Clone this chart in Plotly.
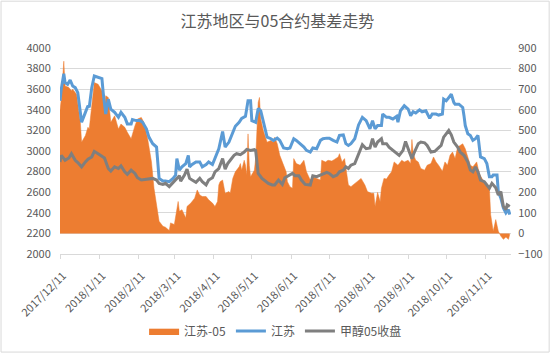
import plotly.graph_objects as go

title_text = "江苏地区与05合约基差走势"

# 江苏 spot price (left axis)
js_dates = ["2017-12-11","2017-12-12","2017-12-14","2017-12-15","2017-12-17","2017-12-19","2017-12-21","2017-12-23","2017-12-25","2017-12-28",
 "2017-12-31","2018-01-02","2018-01-03","2018-01-05","2018-01-07","2018-01-10","2018-01-13","2018-01-14","2018-01-16","2018-01-18",
 "2018-01-20","2018-01-23","2018-01-26","2018-01-28","2018-01-31","2018-02-02","2018-02-05","2018-02-06","2018-02-09","2018-02-12",
 "2018-02-14","2018-02-17","2018-02-19","2018-02-22","2018-02-25","2018-02-27","2018-03-02","2018-03-04","2018-03-07","2018-03-10",
 "2018-03-12","2018-03-13","2018-03-15","2018-03-17","2018-03-20","2018-03-22","2018-03-23","2018-03-25","2018-03-28","2018-03-31",
 "2018-04-02","2018-04-05","2018-04-07","2018-04-10","2018-04-12","2018-04-15","2018-04-18","2018-04-20","2018-04-23","2018-04-26",
 "2018-04-28","2018-05-01","2018-05-03","2018-05-06","2018-05-08","2018-05-10","2018-05-11","2018-05-14","2018-05-16","2018-05-18",
 "2018-05-20","2018-05-23","2018-05-26","2018-05-28","2018-05-31","2018-06-02","2018-06-05","2018-06-08","2018-06-10","2018-06-13",
 "2018-06-15","2018-06-18","2018-06-21","2018-06-23","2018-06-26","2018-06-28","2018-07-01","2018-07-04","2018-07-06","2018-07-09",
 "2018-07-11","2018-07-14","2018-07-17","2018-07-19","2018-07-22","2018-07-24","2018-07-26","2018-07-28","2018-07-31","2018-08-03",
 "2018-08-05","2018-08-06","2018-08-09","2018-08-12","2018-08-14","2018-08-16","2018-08-18","2018-08-21","2018-08-22","2018-08-25",
 "2018-08-27","2018-08-30","2018-09-02","2018-09-03","2018-09-05","2018-09-08","2018-09-11","2018-09-13","2018-09-15","2018-09-17",
 "2018-09-20","2018-09-22","2018-09-25","2018-09-28","2018-09-30","2018-10-03","2018-10-05","2018-10-08","2018-10-09","2018-10-11",
 "2018-10-13","2018-10-15","2018-10-17","2018-10-18","2018-10-21","2018-10-24","2018-10-25","2018-10-26","2018-10-28","2018-10-30",
 "2018-11-01","2018-11-03","2018-11-05","2018-11-07","2018-11-10","2018-11-12","2018-11-14","2018-11-16","2018-11-17","2018-11-20",
 "2018-11-21","2018-11-23","2018-11-25","2018-11-27","2018-11-29","2018-11-30"]
js_values = [3487,3600,3750,3663,3647,3689,3631,3615,3567,3279,
 3375,3439,3423,3615,3728,3712,3702,3567,3359,3503,
 3407,3375,3327,3375,3327,3263,3263,3305,3295,3295,
 3279,3215,3135,3071,3038,2734,2708,2708,2702,2734,
 2766,2926,2814,2846,2878,2958,2846,2869,2894,2894,
 2846,2869,2894,2869,2926,3022,3189,3038,3087,3183,
 3240,3279,3317,3337,3487,3487,3295,3279,3413,3391,
 3279,3135,3119,3103,3125,3103,3029,3022,3029,3119,
 3103,3071,3038,3006,2990,3029,3022,3103,3119,3125,
 3125,3103,3087,3151,3157,3071,3054,3071,3119,3253,
 3295,3327,3295,3215,3295,3215,3247,3247,3359,3327,
 3327,3311,3337,3279,3391,3439,3407,3343,3381,3369,
 3400,3381,3391,3317,3359,3359,3349,3359,3503,3487,
 3519,3551,3471,3455,3455,3423,3343,3247,3167,3151,
 3103,3119,3151,2942,2926,2878,2750,2750,2766,2766,
 2606,2542,2446,2398,2430,2382]

# 甲醇05收盘 futures close (left axis)
ma_dates = ["2017-12-11","2017-12-12","2017-12-15","2017-12-18","2017-12-20","2017-12-23","2017-12-25","2017-12-28","2017-12-31","2018-01-02",
 "2018-01-05","2018-01-07","2018-01-10","2018-01-13","2018-01-15","2018-01-18","2018-01-20","2018-01-23","2018-01-26","2018-01-28",
 "2018-01-31","2018-02-02","2018-02-05","2018-02-08","2018-02-10","2018-02-13","2018-02-15","2018-02-18","2018-02-22","2018-02-25",
 "2018-02-27","2018-03-02","2018-03-04","2018-03-07","2018-03-10","2018-03-12","2018-03-15","2018-03-16","2018-03-19","2018-03-21",
 "2018-03-23","2018-03-25","2018-03-28","2018-03-31","2018-04-02","2018-04-05","2018-04-07","2018-04-10","2018-04-12","2018-04-15",
 "2018-04-18","2018-04-20","2018-04-22","2018-04-24","2018-04-27","2018-04-29","2018-05-02","2018-05-05","2018-05-07","2018-05-10",
 "2018-05-13","2018-05-14","2018-05-16","2018-05-19","2018-05-22","2018-05-24","2018-05-27","2018-05-29","2018-06-01","2018-06-04",
 "2018-06-06","2018-06-09","2018-06-12","2018-06-14","2018-06-17","2018-06-19","2018-06-22","2018-06-26","2018-06-28","2018-07-01",
 "2018-07-04","2018-07-06","2018-07-09","2018-07-11","2018-07-14","2018-07-17","2018-07-19","2018-07-22","2018-07-24","2018-07-26",
 "2018-07-28","2018-07-31","2018-08-03","2018-08-05","2018-08-06","2018-08-09","2018-08-12","2018-08-14","2018-08-16","2018-08-18",
 "2018-08-21","2018-08-22","2018-08-25","2018-08-27","2018-08-30","2018-09-02","2018-09-04","2018-09-07","2018-09-09","2018-09-12",
 "2018-09-14","2018-09-16","2018-09-19","2018-09-21","2018-09-24","2018-09-26","2018-09-29","2018-10-02","2018-10-04","2018-10-07",
 "2018-10-09","2018-10-11","2018-10-13","2018-10-15","2018-10-17","2018-10-20","2018-10-22","2018-10-25","2018-10-28","2018-10-30",
 "2018-11-01","2018-11-03","2018-11-05","2018-11-07","2018-11-10","2018-11-12","2018-11-14","2018-11-16","2018-11-19","2018-11-21",
 "2018-11-23","2018-11-25","2018-11-27","2018-11-28","2018-11-30"]
ma_values = [2894,2958,2910,2933,2974,2910,2888,2846,2894,2920,
 2942,2997,2974,2952,2933,2830,2805,2846,2830,2856,
 2798,2773,2814,2782,2740,2718,2721,2728,2734,2718,
 2686,2676,2686,2654,2696,2718,2760,2708,2766,2824,
 2734,2718,2696,2734,2702,2670,2718,2740,2798,2830,
 2926,2824,2878,2910,2958,2974,2964,2990,3016,3006,
 3013,3006,2782,2734,2702,2686,2670,2670,2718,2676,
 2740,2760,2782,2760,2760,2718,2676,2670,2760,2750,
 2766,2773,2792,2782,2750,2766,2798,2814,2846,2830,
 2862,2878,2974,3022,3061,3022,3029,3119,3038,3087,
 3119,3071,3071,3038,3006,2974,2958,3006,3093,2990,
 2926,2990,3071,3087,3080,3054,2990,2997,3022,3054,
 3135,3167,3199,3157,3087,3038,2990,2958,2894,2814,
 2798,2846,2798,2718,2702,2670,2638,2686,2644,2574,
 2606,2462,2430,2478,2462]

# 江苏-05 basis (right axis)
basis_dates = ["2017-12-11","2017-12-12","2017-12-14","2017-12-15","2017-12-18","2017-12-20","2017-12-21","2017-12-24","2017-12-27","2017-12-28",
 "2017-12-31","2018-01-02","2018-01-03","2018-01-05","2018-01-07","2018-01-10","2018-01-13","2018-01-15","2018-01-16","2018-01-18",
 "2018-01-20","2018-01-23","2018-01-26","2018-01-28","2018-01-31","2018-02-02","2018-02-05","2018-02-08","2018-02-10","2018-02-13",
 "2018-02-15","2018-02-18","2018-02-21","2018-02-23","2018-02-26","2018-02-27","2018-03-02","2018-03-04","2018-03-07","2018-03-08",
 "2018-03-11","2018-03-14","2018-03-15","2018-03-17","2018-03-20","2018-03-21","2018-03-24","2018-03-27","2018-03-29","2018-03-31",
 "2018-04-02","2018-04-05","2018-04-07","2018-04-10","2018-04-12","2018-04-14","2018-04-15","2018-04-16","2018-04-18","2018-04-19",
 "2018-04-20","2018-04-23","2018-04-24","2018-04-26","2018-04-28","2018-05-01","2018-05-02","2018-05-03","2018-05-05","2018-05-06",
 "2018-05-07","2018-05-08","2018-05-09","2018-05-10","2018-05-13","2018-05-14","2018-05-16","2018-05-17","2018-05-18","2018-05-20",
 "2018-05-23","2018-05-26","2018-05-28","2018-05-29","2018-05-31","2018-06-02","2018-06-05","2018-06-07","2018-06-08","2018-06-10",
 "2018-06-12","2018-06-13","2018-06-15","2018-06-18","2018-06-21","2018-06-23","2018-06-26","2018-06-28","2018-07-01","2018-07-04",
 "2018-07-05","2018-07-08","2018-07-10","2018-07-13","2018-07-15","2018-07-18","2018-07-19","2018-07-21","2018-07-23","2018-07-25",
 "2018-07-26","2018-07-28","2018-07-31","2018-08-03","2018-08-05","2018-08-08","2018-08-10","2018-08-13","2018-08-15","2018-08-16",
 "2018-08-18","2018-08-20","2018-08-21","2018-08-23","2018-08-25","2018-08-27","2018-08-29","2018-08-31","2018-09-03","2018-09-06",
 "2018-09-08","2018-09-11","2018-09-13","2018-09-14","2018-09-15","2018-09-17","2018-09-19","2018-09-21","2018-09-24","2018-09-26",
 "2018-09-29","2018-10-01","2018-10-03","2018-10-05","2018-10-08","2018-10-10","2018-10-12","2018-10-14","2018-10-16","2018-10-18",
 "2018-10-20","2018-10-22","2018-10-24","2018-10-26","2018-10-28","2018-10-30","2018-11-01","2018-11-04","2018-11-06","2018-11-08",
 "2018-11-11","2018-11-14","2018-11-15","2018-11-17","2018-11-19","2018-11-21","2018-11-23","2018-11-25","2018-11-27","2018-11-29",
 "2018-11-30"]
basis_values = [596,652,836,716,708,692,700,676,539,443,
 475,515,507,620,732,724,692,604,668,660,
 539,571,507,531,515,491,459,523,555,563,
 539,459,347,219,91,59,35,30,14,51,
 43,155,107,115,75,131,147,171,211,187,
 179,179,163,147,131,155,235,251,259,219,
 195,203,195,267,299,323,339,307,355,331,
 283,483,331,275,307,363,636,660,555,499,
 443,451,443,467,435,379,331,299,251,227,
 219,363,339,331,355,299,259,275,267,259,
 355,347,355,351,359,371,387,347,363,267,
 235,227,243,259,267,235,203,195,195,131,
 199,155,219,267,264,283,299,347,331,355,
 347,355,339,456,387,355,347,315,307,331,
 339,371,347,331,302,347,331,379,395,363,
 419,427,435,411,371,331,323,347,291,267,
 235,219,91,11,67,11,-13,-29,-18,-29,
 -5]

tick_dates = ["2017-12-11","2018-01-11","2018-02-11","2018-03-11","2018-04-11","2018-05-11",
              "2018-06-11","2018-07-11","2018-08-11","2018-09-11","2018-10-11","2018-11-11"]
tick_labels = ["2017/12/11","2018/1/11","2018/2/11","2018/3/11","2018/4/11","2018/5/11",
               "2018/6/11","2018/7/11","2018/8/11","2018/9/11","2018/10/11","2018/11/11"]

ORANGE = "#ED7D31"
BLUE = "#5B9BD5"
GRAY = "#7F7F7F"
TXT = "#595959"
GRID = "#D9D9D9"
FONT = "Noto Sans CJK SC, Noto Sans, sans-serif"

fig = go.Figure()
fig.add_trace(go.Scatter(x=basis_dates, y=basis_values, name="江苏-05", mode="lines",
                         line=dict(color=ORANGE, width=0.5), fill="tozeroy", fillcolor=ORANGE,
                         yaxis="y"))
fig.add_trace(go.Scatter(x=js_dates, y=js_values, name="江苏", mode="lines",
                         line=dict(color=BLUE, width=3), yaxis="y2"))
fig.add_trace(go.Scatter(x=ma_dates, y=ma_values, name="甲醇05收盘", mode="lines",
                         line=dict(color=GRAY, width=3), yaxis="y2"))

W, H = 555, 358
ml, mr, mt, mb = 60, 40, 48, 101
pw, ph = W - ml - mr, H - mt - mb

fig.update_layout(
    width=W, height=H,
    margin=dict(l=ml, r=mr, t=mt, b=mb),
    paper_bgcolor="white", plot_bgcolor="white",
    font=dict(family=FONT, size=11, color=TXT),
    title=dict(text=title_text, x=0.5, xanchor="center", y=1 - 21 / H, yanchor="middle",
               font=dict(size=16, color=TXT, family=FONT)),
    showlegend=True,
    legend=dict(orientation="h", x=(W / 2 - ml) / pw, xanchor="center",
                y=-(335 - mt - ph) / ph, yanchor="middle",
                font=dict(size=12, color=TXT), itemwidth=30, tracegroupgap=0,
                bgcolor="rgba(0,0,0,0)"),
    xaxis=dict(type="date", range=["2017-12-11", "2018-12-01"],
               tickvals=tick_dates, ticktext=tick_labels, tickangle=-45,
               ticks="outside", ticklen=4, tickcolor=GRID, showline=True, linecolor=GRID,
               ticklabelstandoff=6, ticklabelshift=3,
               showgrid=False, zeroline=False, tickfont=dict(size=11, color=TXT)),
    yaxis=dict(side="right", range=[-100, 900], dtick=100, showgrid=True, gridcolor=GRID,
               zeroline=False, showline=False, ticks="outside", ticklen=4,
               tickcolor="rgba(0,0,0,0)", tickfont=dict(size=11, color=TXT)),
    yaxis2=dict(side="left", overlaying="y", range=[2000, 4000], dtick=200, showgrid=False,
                zeroline=False, showline=False, ticks="outside", ticklen=6,
                tickcolor="rgba(0,0,0,0)", tickfont=dict(size=11, color=TXT)),
    shapes=[dict(type="rect", xref="paper", yref="paper",
                 x0=(0.5 - ml) / pw, x1=(W - 1.5 - ml) / pw,
                 y0=-(H - 1.5 - mt - ph) / ph, y1=1 + (mt - 0.5) / ph,
                 line=dict(color=GRID, width=1), fillcolor="rgba(0,0,0,0)", layer="below")],
)

fig.write_html("out.html", config={"displayModeBar": False},
               post_script="document.body.style.margin='0';")
